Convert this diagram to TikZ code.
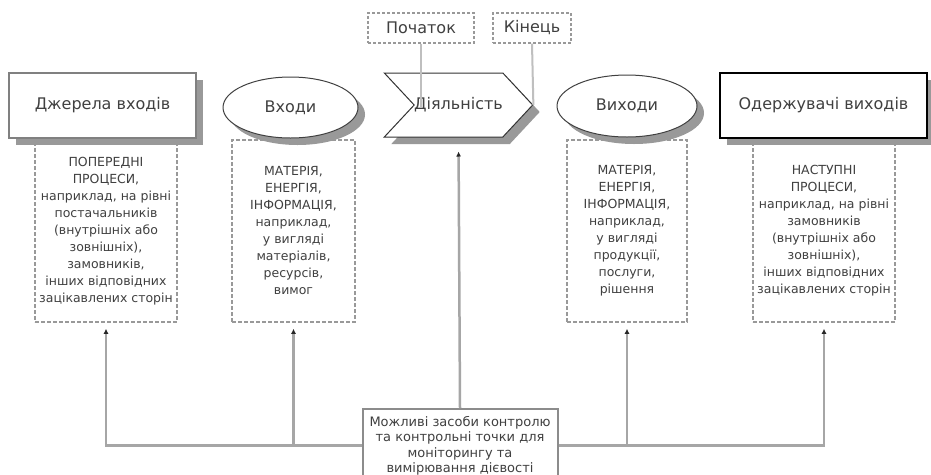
\documentclass[tikz,border=0pt]{standalone}
\usepackage{fontspec}
\setmainfont{DejaVu Sans}
\usetikzlibrary{shapes.geometric,shapes.symbols,shadows,arrows.meta}
\begin{document}
\begin{tikzpicture}[x=1pt,y=-1pt,
  txt/.style={text=black!75,font=\fontsize{12.5}{17}\selectfont},
  heading/.style={text=black!75,font=\fontsize{16}{19}\selectfont},
  dropped/.style={drop shadow={shadow xshift=7pt,shadow yshift=-7pt,fill=black!40,opacity=1}},
  note/.style={draw=black!40,dash pattern=on 4pt off 2pt,line width=1.5pt,fill=white,align=center,txt,minimum height=182pt,inner sep=0pt},
  flag/.style={draw=black!40,dash pattern=on 3pt off 2pt,line width=1.2pt,fill=white,heading,inner sep=0pt,minimum height=30pt},
  conn/.style={draw=black!35,line width=2.5pt},
  lite/.style={draw=black!25,line width=2pt},
  arr/.style={conn,-{Latex[length=5pt,width=5pt,color=black!85]},shorten >=6pt}]
\useasboundingbox[fill=white] (0,0) rectangle (931,474);
% notes under the shapes
\draw (106,231) node[note,minimum width=142pt] (d1) {ПОПЕРЕДНІ\\ПРОЦЕСИ,\\наприклад, на рівні\\постачальників\\(внутрішніх або\\зовнішніх),\\замовників,\\інших відповідних\\зацікавлених сторін};
\draw (293.5,231) node[note,minimum width=123pt] (d2) {МАТЕРІЯ,\\ЕНЕРГІЯ,\\ІНФОРМАЦІЯ,\\наприклад,\\у вигляді\\матеріалів,\\ресурсів,\\вимог};
\draw (627,231) node[note,minimum width=120pt] (d3) {МАТЕРІЯ,\\ЕНЕРГІЯ,\\ІНФОРМАЦІЯ,\\наприклад,\\у вигляді\\продукції,\\послуги,\\рішення};
\draw (824,231) node[note,minimum width=142pt] (d4) {НАСТУПНІ\\ПРОЦЕСИ,\\наприклад, на рівні\\замовників\\(внутрішніх або\\зовнішніх),\\інших відповідних\\зацікавлених сторін};
% main row
\draw (102.5,105.5) node[draw=black!50,line width=1.5pt,fill=white,dropped,minimum width=187pt,minimum height=65pt,heading] (src) {Джерела входів};
\draw (290.5,107.5) node[ellipse,draw=black!75,line width=1pt,fill=white,dropped,minimum width=135pt,minimum height=61pt,inner sep=0pt,heading] (inp) {Входи};
\draw (458.5,105) node[signal,signal to=east,signal from=west,signal pointer angle=94,draw=black!80,line width=1pt,fill=white,dropped,minimum width=147pt,minimum height=64pt,inner sep=0pt,heading] (act) {Діяльність};
\draw (627,106) node[ellipse,draw=black!75,line width=1pt,fill=white,dropped,minimum width=140pt,minimum height=62pt,inner sep=0pt,heading] (out) {Виходи};
\draw (823.5,105.5) node[draw=black,line width=1.5pt,fill=white,dropped,minimum width=207pt,minimum height=65pt,heading] (dst) {Одержувачі виходів};
% start and end
\draw (421,28) node[flag,minimum width=106pt] (beg) {Початок};
\draw (532,28) node[flag,minimum width=78pt] (fin) {Кінець};
\draw[lite] (beg.south) -- ([yshift=-3pt]beg.south |- act.center);
\draw[lite] (fin.south) -- (act.east);
% control
\draw (460,408) node[anchor=north,draw=black!45,line width=2pt,fill=white,align=center,minimum width=195pt,inner sep=7pt,font=\fontsize{13}{15.5}\selectfont,text=black!75] (ctl) {Можливі засоби контролю\\та контрольні точки для\\моніторингу та\\вимірювання дієвості};
\draw[arr,shorten >=14pt] (ctl.north) -- (act.south);
\draw[arr] (ctl.west) -| (d1.south);
\draw[arr] (ctl.west -| d2.south) -- (d2.south);
\draw[arr] (ctl.east) -| (d4.south);
\draw[arr] (ctl.east -| d3.south) -- (d3.south);
\end{tikzpicture}
\end{document}
